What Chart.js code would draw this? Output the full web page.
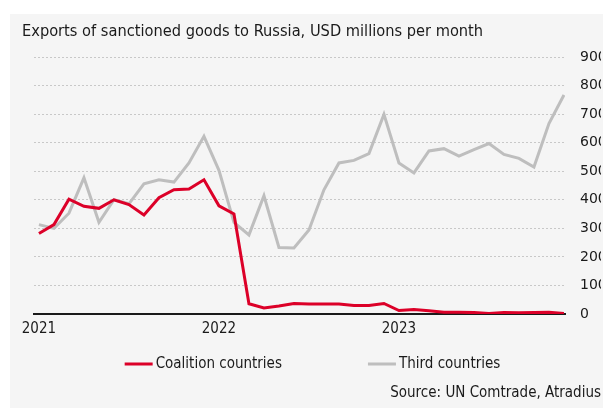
<!DOCTYPE html>
<html>
<head>
<meta charset="utf-8">
<script src="https://cdn.jsdelivr.net/npm/chart.js@4/dist/chart.umd.min.js"></script>
<style>
  html, body { margin: 0; padding: 0; background: #fff; overflow: hidden; }
  #panel { position: absolute; left: 10px; top: 14px; width: 593px; height: 394px; background: #f5f5f5; }
</style>
</head>
<body>
<div id="panel"><canvas id="exportsChart" width="593" height="394"></canvas></div>
<script>
// Monthly exports, USD millions, Jan 2021 - Dec 2023
const months = [
  '2021-01', '2021-02', '2021-03', '2021-04', '2021-05', '2021-06',
  '2021-07', '2021-08', '2021-09', '2021-10', '2021-11', '2021-12',
  '2022-01', '2022-02', '2022-03', '2022-04', '2022-05', '2022-06',
  '2022-07', '2022-08', '2022-09', '2022-10', '2022-11', '2022-12',
  '2023-01', '2023-02', '2023-03', '2023-04', '2023-05', '2023-06',
  '2023-07', '2023-08', '2023-09', '2023-10', '2023-11', '2023-12'
];
const coalition = [
  282, 313, 402, 377, 370, 400, 383, 347, 407, 435, 438, 470,
  379, 350, 36, 21, 28, 37, 35, 35, 35, 30, 30, 37,
  12, 16, 11, 6, 6, 5, 2, 5, 4, 5, 6, 2
];
const third = [
  313, 300, 353, 477, 321, 400, 386, 456, 470, 462, 529, 622,
  503, 321, 277, 414, 233, 231, 294, 435, 529, 538, 562, 699,
  529, 494, 571, 579, 553, 576, 597, 559, 545, 515, 667, 767
];
const yearTicks = [0, 12, 24];

const FONT = 'DejaVu Sans Condensed';
const TEXT = '#1a1a1a';

const toPoints = values => values.map((v, i) => ({ x: i, y: v }));

// legend drawn by hand: short bar + label, two items centred under the axis
const lineLegend = {
  id: 'lineLegend',
  afterDraw(chart) {
    const ctx = chart.ctx;
    const y = chart.chartArea.bottom + 50;
    const gap = 86;
    ctx.save();
    ctx.font = '15px "' + FONT + '"';
    ctx.textBaseline = 'middle';
    const items = chart.data.datasets.map(ds => ({
      label: ds.label,
      color: ds.borderColor,
      w: 28 + 3 + ctx.measureText(ds.label).width
    }));
    const total = items.reduce((s, it) => s + it.w, 0) + gap * (items.length - 1);
    let x = (chart.width + 12) / 2 - total / 2;
    items.forEach(it => {
      ctx.fillStyle = it.color;
      ctx.fillRect(x, y - 1.5, 28, 3);
      ctx.fillStyle = TEXT;
      ctx.fillText(it.label, x + 31, y);
      x += it.w + gap;
    });
    ctx.restore();
  }
};

const ctx = document.getElementById('exportsChart').getContext('2d');
const exportsChart = new Chart(ctx, {
  type: 'line',
  data: {
    datasets: [
      {
        label: 'Coalition countries',
        data: toPoints(coalition),
        borderColor: '#dc0028',
        borderWidth: 3,
        pointRadius: 0,
        tension: 0,
        fill: false
      },
      {
        label: 'Third countries',
        data: toPoints(third),
        borderColor: '#bebebe',
        borderWidth: 3,
        pointRadius: 0,
        tension: 0,
        fill: false
      }
    ]
  },
  plugins: [lineLegend],
  options: {
    responsive: false,
    animation: false,
    layout: { padding: { left: 12, right: 2, top: 0, bottom: 0 } },
    plugins: {
      legend: { display: false },
      tooltip: { enabled: false },
      title: {
        display: true,
        text: 'Exports of sanctioned goods to Russia, USD millions per month',
        align: 'start',
        color: TEXT,
        font: { family: FONT, size: 16.25, weight: 'normal', lineHeight: 1.2 },
        padding: { top: 8, bottom: 15.5 }
      },
      subtitle: {
        display: true,
        position: 'bottom',
        align: 'end',
        text: 'Source: UN Comtrade, Atradius',
        color: TEXT,
        font: { family: FONT, size: 15, weight: 'normal', lineHeight: 1.2 },
        padding: { top: 40, bottom: 6 }
      }
    },
    scales: {
      x: {
        type: 'linear',
        min: -0.33,
        max: 35.07,
        afterBuildTicks: scale => {
          scale.ticks = yearTicks.map(v => ({ value: v }));
        },
        ticks: {
          callback: v => months[v].slice(0, 4),
          color: TEXT,
          padding: 6,
          maxRotation: 0,
          autoSkip: false,
          font: { family: FONT, size: 15 }
        },
        grid: { display: false, drawTicks: false },
        border: { display: true, color: '#1a1a1a', width: 2 }
      },
      y: {
        position: 'right',
        min: 0,
        max: 900,
        afterFit: scale => { scale.width = 36; },
        ticks: {
          stepSize: 100,
          color: TEXT,
          padding: 15,
          font: { family: 'DejaVu Sans', size: 14 }
        },
        grid: {
          drawTicks: false,
          color: '#c8c8c8',
          lineWidth: 1
        },
        border: { display: false, dash: [2, 2] }
      },
      gutter: {
        type: 'linear',
        position: 'left',
        display: true,
        afterFit: scale => { scale.width = 12; },
        ticks: { display: false },
        grid: { display: false, drawTicks: false },
        border: { display: false }
      }
    }
  }
});
</script>
</body>
</html>
